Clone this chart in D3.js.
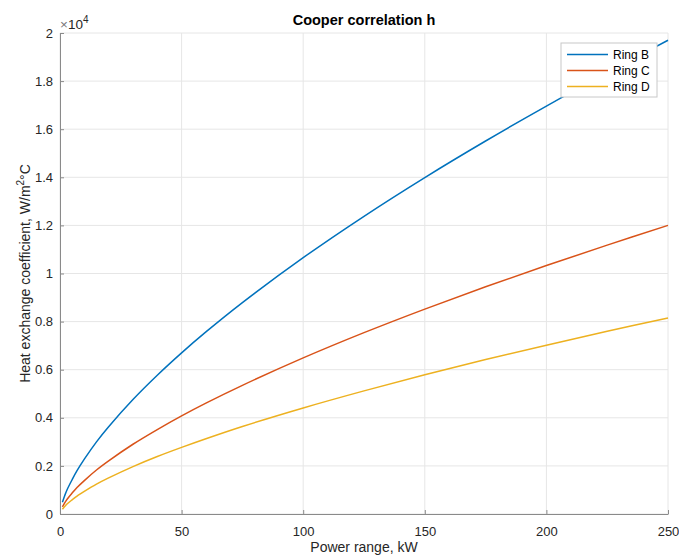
<!DOCTYPE html>
<html>
<head>
<meta charset="utf-8">
<script src="https://cdn.jsdelivr.net/npm/d3@7"></script>
<style>
    body { margin: 0; background: #fff; }
    svg { display: block; font-family: "Liberation Sans", Arial, Helvetica, sans-serif; }
</style>
</head>
<body>
<svg id="chart"></svg>
<script>
// power, kW
var power = [1, 2, 3, 5, 7, 10, 15, 20, 30, 40, 50, 60, 75, 100, 125, 150, 175, 200, 225, 250];

// heat exchange coefficient, W/m2C
var ringB = [490, 780, 1030, 1430, 1800, 2280, 3000, 3630, 4760, 5770, 6700, 7570, 8790, 10660, 12380, 13990, 15510, 16960, 18350, 19700];
var ringC = [300, 475, 625, 870, 1100, 1390, 1830, 2210, 2900, 3510, 4080, 4610, 5350, 6490, 7540, 8520, 9450, 10330, 11180, 12000];
var ringD = [200, 320, 425, 590, 745, 940, 1240, 1500, 1970, 2390, 2770, 3130, 3640, 4410, 5120, 5790, 6420, 7020, 7600, 8150];

var seriesNames = ["Ring B", "Ring C", "Ring D"];
var seriesColors = ["#0072BD", "#D95319", "#EDB120"];

var xTicks = [0, 50, 100, 150, 200, 250];
var yTicks = [0, 2000, 4000, 6000, 8000, 10000, 12000, 14000, 16000, 18000, 20000];

var width = 679,
    height = 556,
    margin = {top: 33, right: 11, bottom: 42, left: 60};

var svg = d3.select("svg#chart")
    .attr("width", width)
    .attr("height", height);

var x = d3.scaleLinear()
    .domain([0, 250])
    .range([margin.left, width - margin.right]);

var y = d3.scaleLinear()
    .domain([0, 20000])
    .range([height - margin.bottom, margin.top]);

// grid
svg.append("g")
    .selectAll("line")
    .data(xTicks)
    .enter()
    .append("line")
        .attr("x1", function(d) { return x(d); })
        .attr("x2", function(d) { return x(d); })
        .attr("y1", y(0))
        .attr("y2", y(20000))
        .style("stroke", "#e6e6e6")
        .style("stroke-width", 1);

svg.append("g")
    .selectAll("line")
    .data(yTicks)
    .enter()
    .append("line")
        .attr("x1", x(0))
        .attr("x2", x(250))
        .attr("y1", function(d) { return y(d); })
        .attr("y2", function(d) { return y(d); })
        .style("stroke", "#e6e6e6")
        .style("stroke-width", 1);

// axes (inward ticks, matlab style)
var xAxis = svg.append("g")
    .attr("transform", "translate(0," + y(0) + ")")
    .call(d3.axisBottom(x).tickValues(xTicks).tickSize(-4).tickPadding(10).tickSizeOuter(0));

var yAxis = svg.append("g")
    .attr("transform", "translate(" + x(0) + ",0)")
    .call(d3.axisLeft(y).tickValues(yTicks).tickSize(-4).tickPadding(7).tickSizeOuter(0)
        .tickFormat(function(d) { return String(+(d / 10000).toFixed(1)); }));

[xAxis, yAxis].forEach(function(g) {
    g.select(".domain").style("stroke", "#8a8a8a");
    g.selectAll(".tick line").style("stroke", "#8a8a8a");
    g.selectAll(".tick text")
        .style("fill", "#262626")
        .style("font-size", "13px")
        .style("font-family", "inherit");
});
xAxis.selectAll(".tick text").attr("dy", "0.95em");

// exponent label
var expo = svg.append("text")
    .attr("x", margin.left)
    .attr("y", 29)
    .style("font-size", "13.5px")
    .style("fill", "#262626");
expo.append("tspan").style("fill", "#777").text("\u00d7");
expo.append("tspan").text("10");
expo.append("tspan")
    .attr("dy", -6)
    .style("font-size", "10px")
    .text("4");

// lines
var data = [ringB, ringC, ringD];

var line = d3.line()
    .x(function(d, i) { return x(power[i]); })
    .y(function(d) { return y(d); })
    .curve(d3.curveCatmullRom.alpha(0.5));

svg.append("g")
    .selectAll("path")
    .data(data)
    .enter()
    .append("path")
        .attr("d", function(d) { return line(d); })
        .style("fill", "none")
        .style("stroke", function(d, i) { return seriesColors[i]; })
        .style("stroke-width", 1.5);

// title + labels
svg.append("text")
    .attr("x", (x(0) + x(250)) / 2)
    .attr("y", 25)
    .attr("text-anchor", "middle")
    .style("font-size", "14.5px")
    .style("font-weight", "bold")
    .style("fill", "#000")
    .text("Cooper correlation h");

svg.append("text")
    .attr("x", (x(0) + x(250)) / 2)
    .attr("y", 552)
    .attr("text-anchor", "middle")
    .style("font-size", "14px")
    .style("fill", "#262626")
    .text("Power range, kW");

var ylab = svg.append("text")
    .attr("transform", "translate(30," + ((y(0) + y(20000)) / 2) + ") rotate(-90)")
    .attr("text-anchor", "middle")
    .style("font-size", "14px")
    .style("fill", "#262626");
ylab.append("tspan").text("Heat exchange coefficient, W/m");
ylab.append("tspan").attr("dy", -6).style("font-size", "10px").text("2");
ylab.append("tspan").attr("dy", 6).text("\u00b0C");

// legend
var legend = svg.append("g")
    .attr("transform", "translate(561,43)");

legend.append("rect")
    .attr("width", 96)
    .attr("height", 54)
    .style("fill", "#fff")
    .style("stroke", "#c8c8c8")
    .style("stroke-width", 1);

var item = legend.selectAll("g.item")
    .data(seriesNames)
    .enter()
    .append("g")
        .attr("class", "item")
        .attr("transform", function(d, i) {
            return "translate(0," + (11.5 + i * 16) + ")";
        });

item.append("line")
    .attr("x1", 6)
    .attr("x2", 47)
    .style("stroke", function(d, i) { return seriesColors[i]; })
    .style("stroke-width", 1.5);

item.append("text")
    .attr("x", 52)
    .attr("dy", "0.35em")
    .style("font-size", "12px")
    .style("fill", "#000")
    .text(function(d) { return d; });
</script>
</body>
</html>
